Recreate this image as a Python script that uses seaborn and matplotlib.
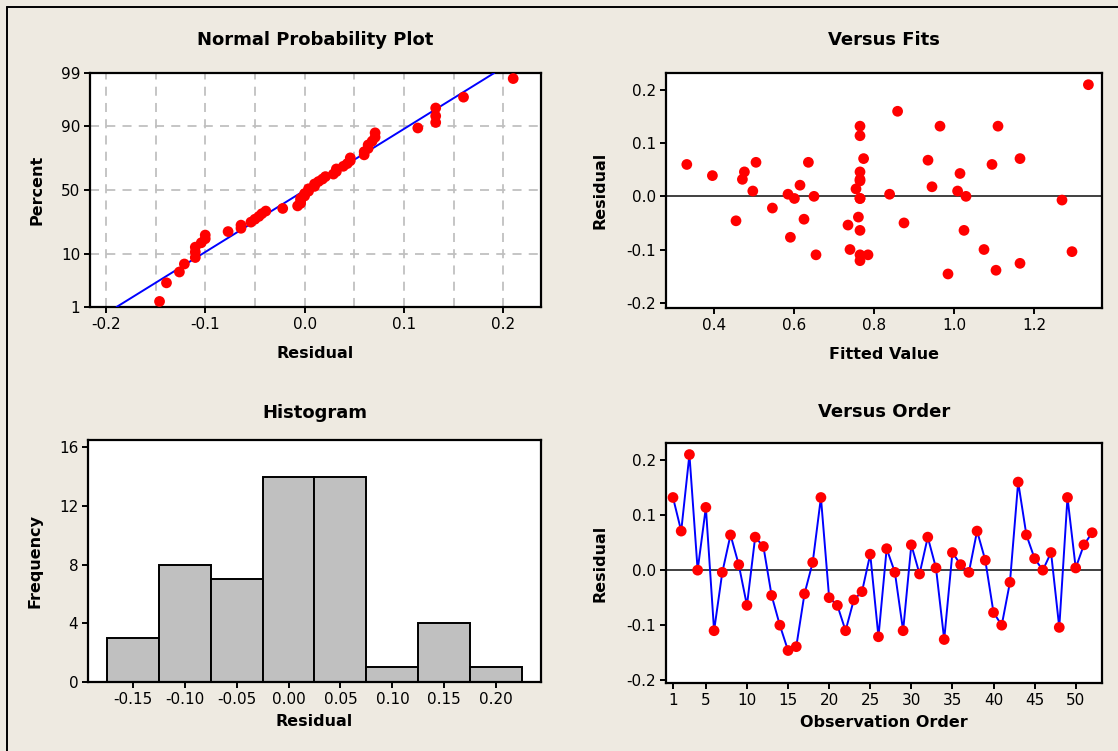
import numpy as np
import pandas as pd
import matplotlib
matplotlib.use("Agg")
import matplotlib.pyplot as plt
import seaborn as sns
from statistics import NormalDist
from matplotlib.lines import Line2D

# ---------------- data ----------------
residuals = [0.132, 0.071, 0.210, 0.000, 0.114, -0.110, -0.004, 0.064, 0.010, -0.064,
             0.060, 0.043, -0.046, -0.100, -0.146, -0.139, -0.043, 0.014, 0.132, -0.050,
             -0.064, -0.110, -0.054, -0.039, 0.029, -0.121, 0.039, -0.004, -0.110, 0.046,
             -0.007, 0.060, 0.004, -0.126, 0.032, 0.010, -0.004, 0.071, 0.018, -0.077,
             -0.100, -0.022, 0.160, 0.064, 0.021, 0.000, 0.032, -0.104, 0.132, 0.004,
             0.046, 0.068]
fitted = [0.765, 0.774, 1.336, 0.650, 0.765, 0.655, 0.765, 0.505, 0.497, 0.765,
          1.095, 1.015, 0.455, 0.740, 0.985, 1.105, 0.625, 0.755, 0.965, 0.875,
          1.025, 0.765, 0.735, 0.761, 0.765, 0.765, 0.396, 0.601, 0.785, 0.765,
          1.270, 0.332, 0.585, 1.165, 0.471, 1.009, 0.765, 1.165, 0.945, 0.591,
          1.075, 0.546, 0.859, 0.636, 0.615, 1.030, 0.765, 1.295, 1.110, 0.839,
          0.476, 0.935]
order = list(range(1, len(residuals) + 1))

prob_ticks = [1, 10, 50, 90, 99]
npp_xticks = [-0.2, -0.1, 0.0, 0.1, 0.2]
fits_xticks = [0.4, 0.6, 0.8, 1.0, 1.2]
resid_yticks = [-0.2, -0.1, 0.0, 0.1, 0.2]
hist_bin_centers = [-0.15, -0.10, -0.05, 0.00, 0.05, 0.10, 0.15, 0.20]
hist_yticks = [0, 4, 8, 12, 16]
order_xticks = [1, 5, 10, 15, 20, 25, 30, 35, 40, 45, 50]

# ---------------- style ----------------
BG = "#eeeae1"
sns.set_theme(style="white")
plt.rcParams["font.family"] = ["DejaVu Sans"]
plt.rcParams["axes.unicode_minus"] = False
plt.rcParams["text.color"] = "black"
plt.rcParams["axes.labelcolor"] = "black"
plt.rcParams["axes.titlecolor"] = "black"
plt.rcParams["axes.linewidth"] = 1.6
plt.rcParams["axes.edgecolor"] = "black"
plt.rcParams["xtick.major.size"] = 4
plt.rcParams["ytick.major.size"] = 4
plt.rcParams["xtick.major.width"] = 1.4
plt.rcParams["ytick.major.width"] = 1.4
plt.rcParams["xtick.bottom"] = True
plt.rcParams["ytick.left"] = True
plt.rcParams["xtick.color"] = "black"
plt.rcParams["ytick.color"] = "black"

TICK_FS = 11
LABEL_FS = 11.5
TITLE_FS = 13

fig = plt.figure(figsize=(11.18, 7.51), dpi=100, facecolor=BG)
W, H = 1118, 751


def add_ax(l, r, t, b):
    return fig.add_axes([l / W, 1 - b / H, (r - l) / W, (b - t) / H])


ax1 = add_ax(90, 541, 73, 307)
ax2 = add_ax(666, 1102, 73, 308)
ax3 = add_ax(88, 541, 440, 682)
ax4 = add_ax(666, 1102, 443, 683)

for ax in (ax1, ax2, ax3, ax4):
    ax.set_facecolor("white")
    for s in ax.spines.values():
        s.set_color("black")
        s.set_linewidth(1.6)
    ax.tick_params(labelsize=TICK_FS, pad=3, colors="black", labelcolor="black")

nd = NormalDist()
res = np.array(residuals)
n = len(res)
MS = 60

# ---------------- Normal probability plot ----------------
sorted_res = np.sort(res)
pp = (np.arange(1, n + 1) - 0.3) / (n + 0.4)
z = np.array([nd.inv_cdf(p) for p in pp])
df_npp = pd.DataFrame({"Residual": sorted_res, "z": z})

zlo, zhi = nd.inv_cdf(0.01), nd.inv_cdf(0.99)
mu, sd = res.mean(), res.std(ddof=1)
zline = np.linspace(zlo, zhi, 50)
ax1.plot(mu + sd * zline, zline, color="#0000ff", lw=1.4, zorder=3)
sns.scatterplot(data=df_npp, x="Residual", y="z", ax=ax1, color="#ff0000",
                s=MS, edgecolor="none", zorder=4, legend=False)
for gx in np.arange(-0.2, 0.2001, 0.05):
    ax1.axvline(gx, color="#c0c0c0", ls=(0, (5, 4)), lw=1.3, zorder=1)
for gp in [10, 50, 90]:
    ax1.axhline(nd.inv_cdf(gp / 100), color="#c0c0c0", ls=(0, (5, 4)), lw=1.3, zorder=1)
ax1.set_xlim(-0.216, 0.238)
ax1.set_ylim(zlo, zhi)
ax1.set_xticks(npp_xticks)
ax1.set_xticklabels([f"{v:.1f}" for v in npp_xticks])
ax1.set_yticks([nd.inv_cdf(p / 100) for p in prob_ticks])
ax1.set_yticklabels([str(p) for p in prob_ticks])

# ---------------- Versus Fits ----------------
df_fit = pd.DataFrame({"Fitted Value": fitted, "Residual": residuals})
ax2.axhline(0, color="#404040", lw=1.4, zorder=1)
sns.scatterplot(data=df_fit, x="Fitted Value", y="Residual", ax=ax2, color="#ff0000",
                s=MS, edgecolor="none", zorder=4, legend=False)
ax2.set_xlim(0.28, 1.37)
ax2.set_ylim(-0.21, 0.232)
ax2.set_xticks(fits_xticks)
ax2.set_xticklabels([f"{v:.1f}" for v in fits_xticks])
ax2.set_yticks(resid_yticks)
ax2.set_yticklabels([f"{v:.1f}" for v in resid_yticks])

# ---------------- Histogram ----------------
edges = np.array(hist_bin_centers + [hist_bin_centers[-1] + 0.05]) - 0.025
sns.histplot(x=res, bins=edges, ax=ax3, color="#c0c0c0", alpha=1,
             edgecolor="black", linewidth=1.4)
ax3.set_xlim(-0.193, 0.243)
ax3.set_ylim(0, 16.5)
ax3.set_xticks(hist_bin_centers)
ax3.set_xticklabels([f"{v:.2f}" for v in hist_bin_centers])
ax3.set_yticks(hist_yticks)

# ---------------- Versus Order ----------------
df_ord = pd.DataFrame({"Observation Order": order, "Residual": residuals})
ax4.axhline(0, color="#404040", lw=1.4, zorder=1)
sns.lineplot(data=df_ord, x="Observation Order", y="Residual", ax=ax4,
             color="#0000ff", lw=1.4, zorder=3)
sns.scatterplot(data=df_ord, x="Observation Order", y="Residual", ax=ax4,
                color="#ff0000", s=MS, edgecolor="none", zorder=4, legend=False)
ax4.set_xlim(0.15, 53.2)
ax4.set_ylim(-0.205, 0.231)
ax4.set_xticks(order_xticks)
ax4.set_yticks(resid_yticks)
ax4.set_yticklabels([f"{v:.1f}" for v in resid_yticks])

titles = ["Normal Probability Plot", "Versus Fits", "Histogram", "Versus Order"]
xlabels = ["Residual", "Fitted Value", "Residual", "Observation Order"]
ylabels = ["Percent", "Residual", "Frequency", "Residual"]
tpads = [20, 20, 16, 19]
xpads = [10, 10, 5, 5]
ypads = [12, 14, 12, 14]
for ax, t, xl, yl, tp, xp, yp in zip((ax1, ax2, ax3, ax4), titles, xlabels, ylabels,
                                     tpads, xpads, ypads):
    ax.set_title(t, fontsize=TITLE_FS, fontweight="bold", pad=tp, color="black")
    ax.set_xlabel(xl, fontsize=LABEL_FS, fontweight="bold", labelpad=xp, color="black")
    ax.set_ylabel(yl, fontsize=LABEL_FS, fontweight="bold", labelpad=yp, color="black")

# figure frame (top and left edges visible in reference)
fig.add_artist(Line2D([6.5 / W, 6.5 / W], [0, 1 - 6.5 / H], transform=fig.transFigure,
                      color="black", lw=1.4))
fig.add_artist(Line2D([6.5 / W, 1], [1 - 6.5 / H, 1 - 6.5 / H], transform=fig.transFigure,
                      color="black", lw=1.4))

fig.savefig("out.png", dpi=100, facecolor=BG)
